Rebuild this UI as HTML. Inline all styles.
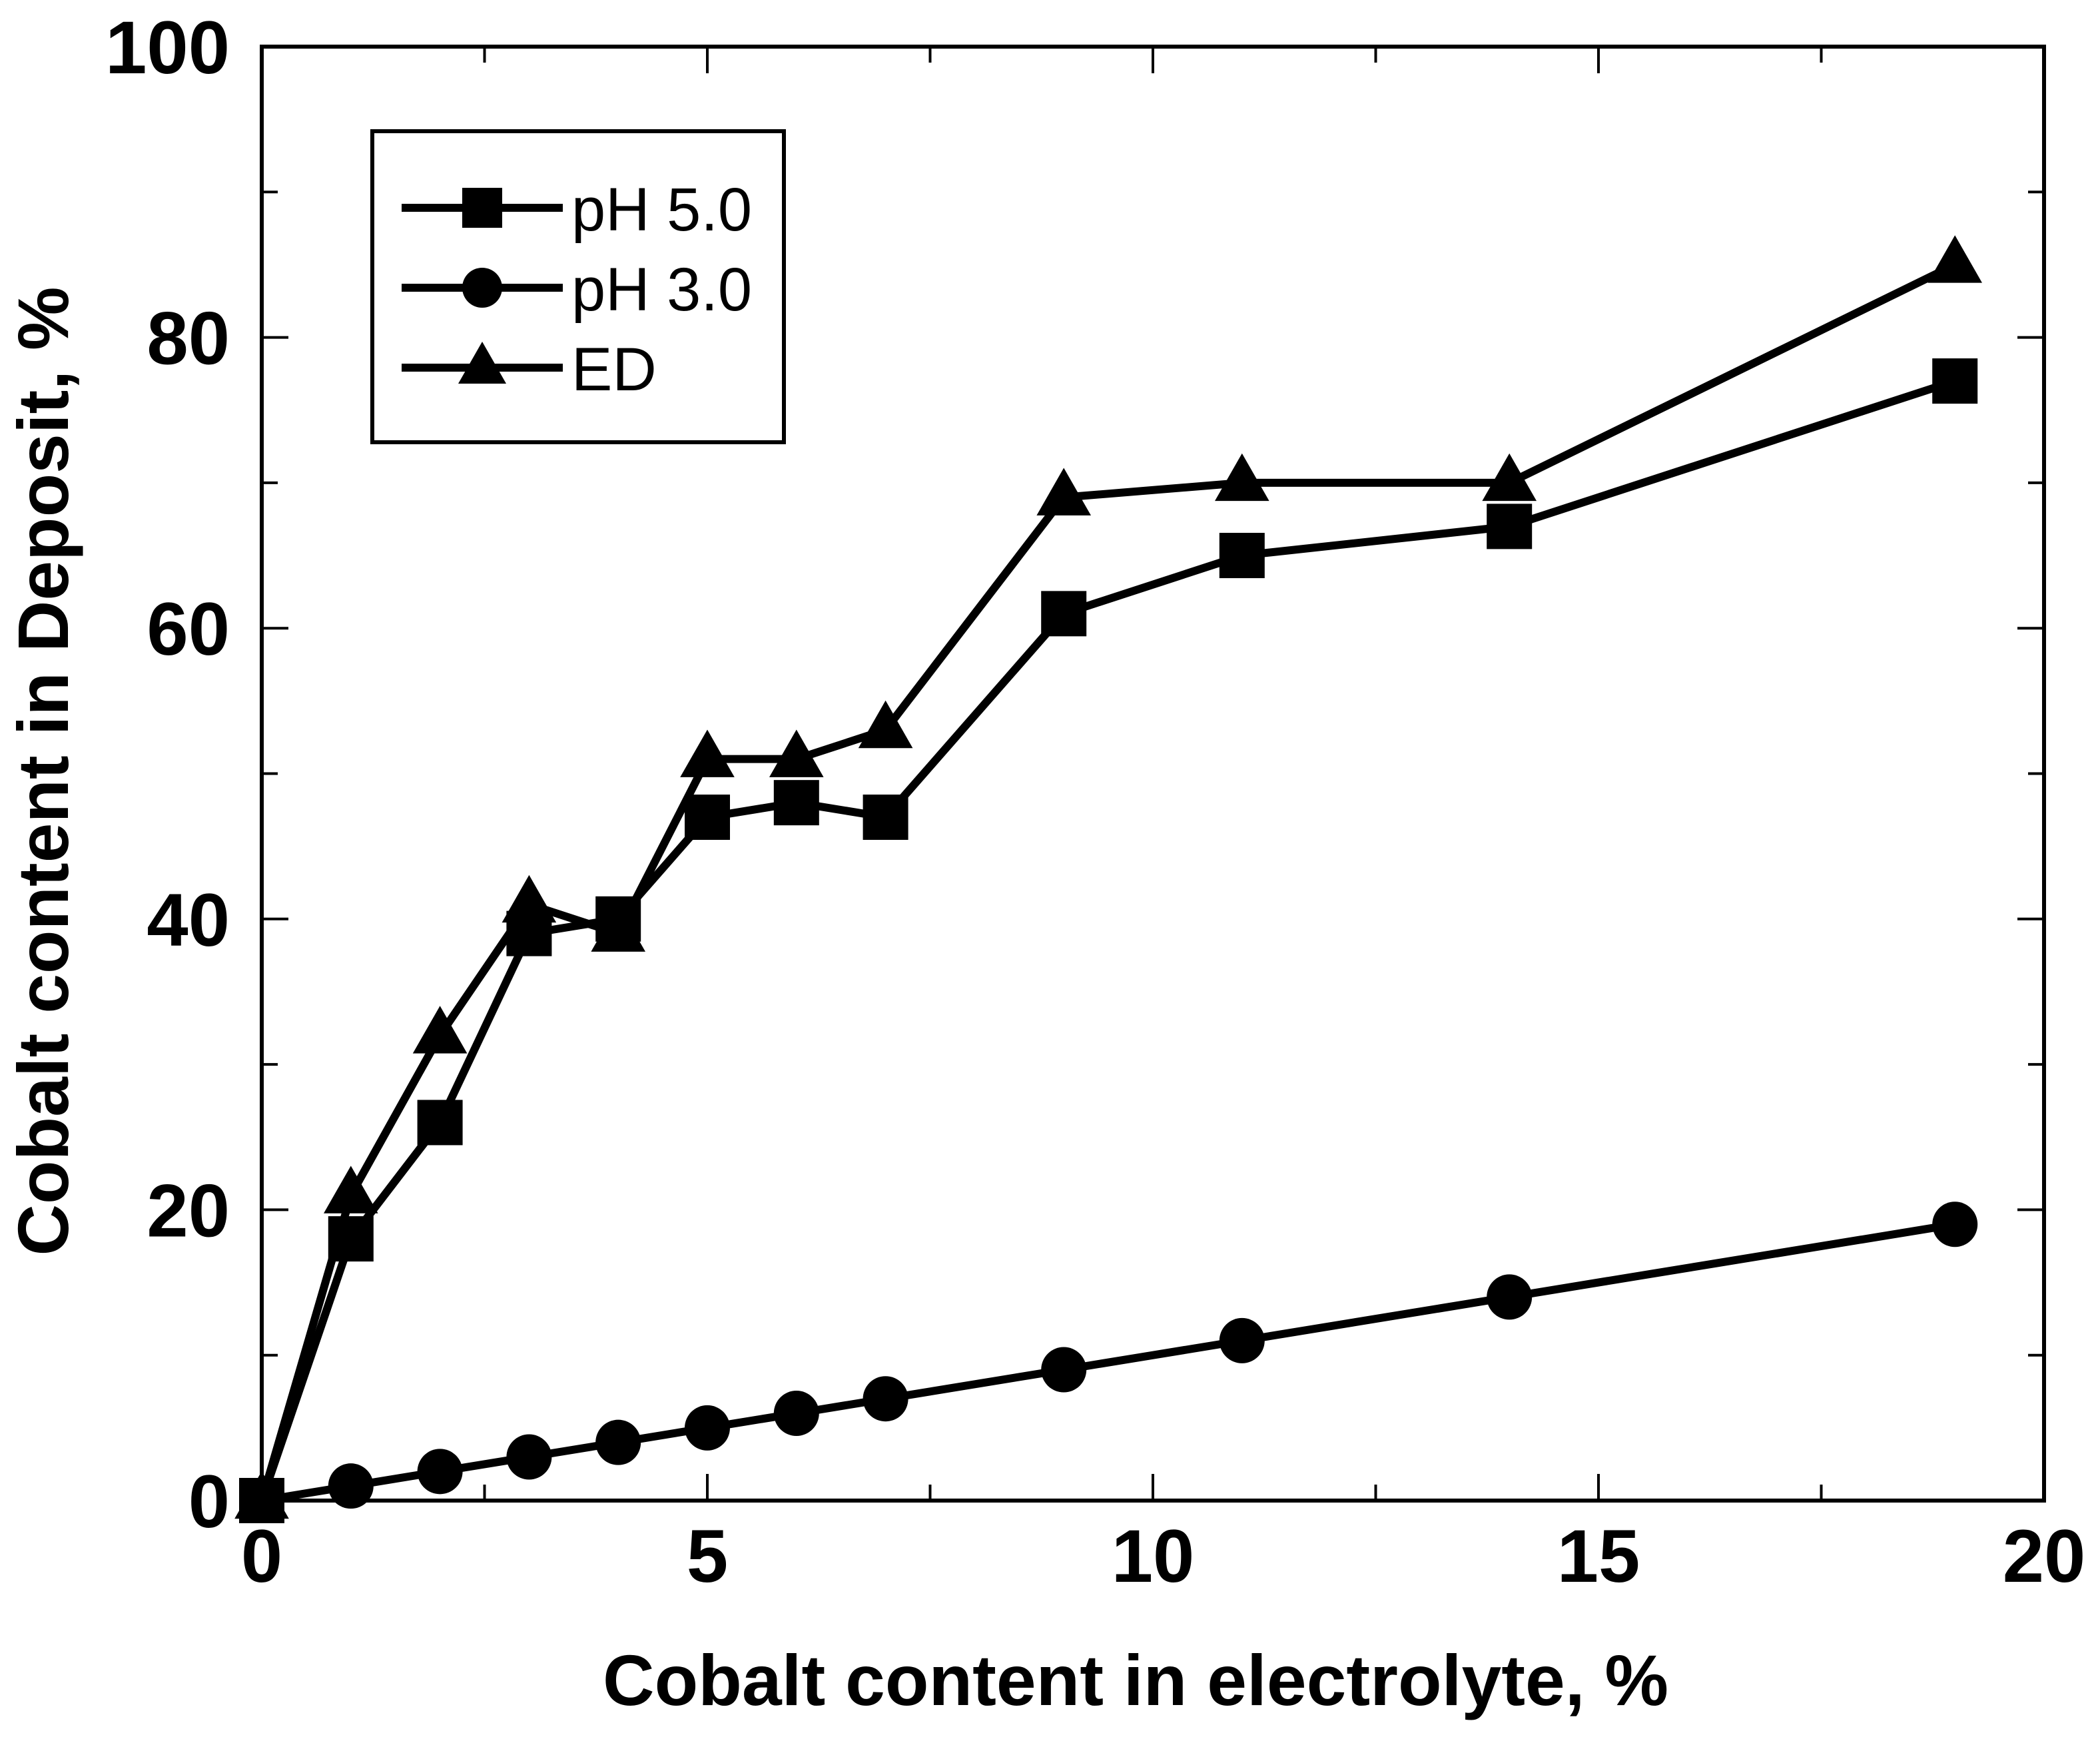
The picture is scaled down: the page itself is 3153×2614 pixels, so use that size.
<!DOCTYPE html>
<html><head><meta charset="utf-8"><style>body{margin:0;background:#fff}svg{display:block}</style></head>
<body>
<svg id="chart" width="3153" height="2614" viewBox="0 0 3153 2614" xmlns="http://www.w3.org/2000/svg" font-family="Liberation Sans, sans-serif">
<g id="axes"></g>
<g id="series"></g>
<g id="legend">
  <rect x="559" y="197" width="618" height="467" fill="#fff" stroke="#000" stroke-width="6"/>
</g>
<text x="1705" y="2560" font-size="108" font-weight="bold" text-anchor="middle" textLength="1600" lengthAdjust="spacingAndGlyphs">Cobalt content in electrolyte, %</text>
<text transform="translate(102,1158) rotate(-90)" font-size="108" font-weight="bold" text-anchor="middle" textLength="1455" lengthAdjust="spacingAndGlyphs">Cobalt content in Deposit, %</text>
</svg>
<script>
const xValues = [0,1,2,3,4,5,6,7,9,11,14,19];
const ph50 = [0,18,26,39,40,47,48,47,61,65,67,77];
const ph30 = [0,1,2,3,4,5,6,7,9,11,14,19];
const edValues = [0,21,32,41,39,51,51,53,69,70,70,85];
const xTicks = [0,5,10,15,20];
const yTicks = [0,20,40,60,80,100];
const legendLabels = ['pH 5.0','pH 3.0','ED'];

const L=393,R=3069,T=70,B=2253;
const sx=v=>L+(v/20)*(R-L);
const sy=v=>B-(v/100)*(B-T);
const NS='http://www.w3.org/2000/svg';
function mk(tag,attrs,parent){const e=document.createElementNS(NS,tag);for(const k in attrs)e.setAttribute(k,attrs[k]);parent.appendChild(e);return e;}
const axes=document.getElementById('axes');
const frame=mk('rect',{x:L,y:T,width:R-L,height:B-T,fill:'none',stroke:'#000','stroke-width':6},axes);


for(let v=0;v<=20;v+=2.5){
  const maj=v%5===0,len=maj?40:24,x=sx(v);
  const t1=mk('line',{x1:x,y1:B,x2:x,y2:B-len,stroke:'#000','stroke-width':4},axes);
  
  
  const t2=mk('line',{x1:x,y1:T,x2:x,y2:T+len,stroke:'#000','stroke-width':4},axes);
  
  
}
for(let v=0;v<=100;v+=10){
  const maj=v%20===0,len=maj?40:24,y=sy(v);
  const t1=mk('line',{x1:L,y1:y,x2:L+len,y2:y,stroke:'#000','stroke-width':4},axes);
  
  
  const t2=mk('line',{x1:R,y1:y,x2:R-len,y2:y,stroke:'#000','stroke-width':4},axes);
  
  
}
xTicks.forEach(v=>{
  const t=mk('text',{x:sx(v),y:2375,'font-size':112,'font-weight':'bold','text-anchor':'middle'},axes);
  t.textContent=v;
  
  
});
yTicks.forEach(v=>{
  const t=mk('text',{x:345,y:sy(v)+40,'font-size':112,'font-weight':'bold','text-anchor':'end'},axes);
  t.textContent=v;
  
  
});
const ser=document.getElementById('series');
function marker(kind,x,y,parent,s){
  let e;
  if(kind==='square') e=mk('rect',{x:x-s,y:y-s,width:2*s,height:2*s,fill:'#000'},parent);
  else if(kind==='circle') e=mk('circle',{cx:x,cy:y,r:s,fill:'#000'},parent);
  else e=mk('polygon',{points:`${x},${y-s*1.3} ${x-s*1.2},${y+s*0.8} ${x+s*1.2},${y+s*0.8}`,fill:'#000'},parent);
  return e;
}
function drawSeries(vals,kind,name){
  const g=mk('g',{},ser);
  
  
  const pts=xValues.map((x,i)=>sx(x)+','+sy(vals[i])).join(' ');
  const pl=mk('polyline',{points:pts,fill:'none',stroke:'#000','stroke-width':12,'stroke-linejoin':'round'},g);
  
  
  xValues.forEach((x,i)=>{
    const m=marker(kind,sx(x),sy(vals[i]),g,34);
    
    
  });
}
drawSeries(ph30,'circle','ph30-series');
drawSeries(ph50,'square','ph50-series');
drawSeries(edValues,'triangle','ed-series');
const lg=document.getElementById('legend');
const kinds=['square','circle','triangle'];
legendLabels.forEach((lab,i)=>{
  const y=312+i*120;
  const g=mk('g',{},lg);
  
  
  mk('line',{x1:603,y1:y,x2:845,y2:y,stroke:'#000','stroke-width':12},g);
  marker(kinds[i],724,y,g,30);
  const t=mk('text',{x:858,y:y+34,'font-size':92},g);
  t.textContent=lab;
});
</script>
</body></html>
